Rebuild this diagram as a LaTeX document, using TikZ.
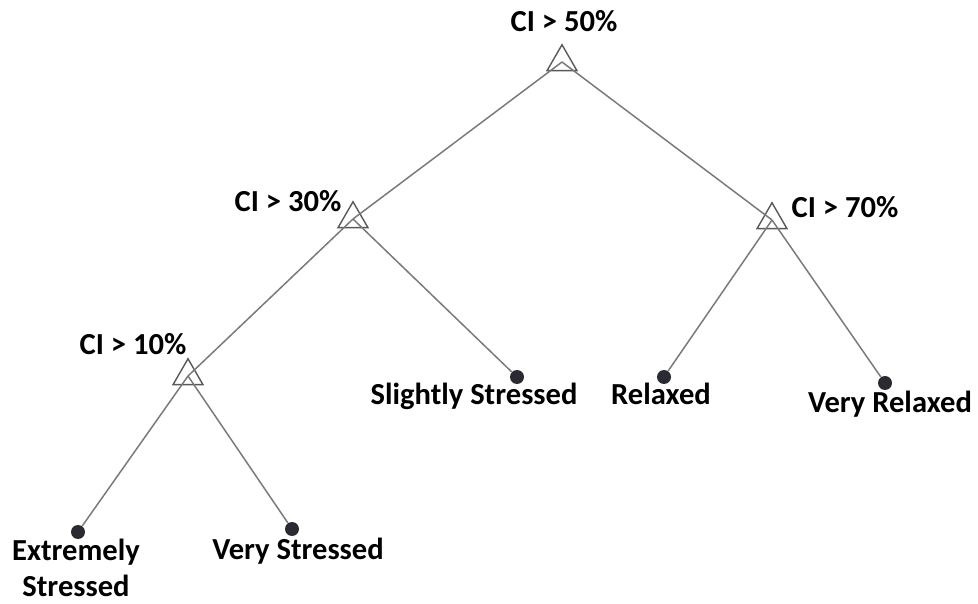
\documentclass[tikz,border=0pt]{standalone}
\usepackage{fontspec}
\setmainfont{Carlito}
\usepackage{tikz}
\usetikzlibrary{shapes.geometric,positioning}
\definecolor{dotgrey}{HTML}{2A2A33}
\definecolor{edgegrey}{HTML}{7A7A7A}

\begin{document}
\begin{tikzpicture}[
  x=0.02cm, y=-0.02cm,
  every node/.style={font=\fontsize{17.4}{20.5}\selectfont\bfseries},
  test/.style={regular polygon, regular polygon sides=3, draw=black!65, line width=0.8pt, minimum size=0.69cm, inner sep=0pt, outer sep=0pt},
  leaf/.style={circle, fill=dotgrey, minimum size=0.28cm, inner sep=0pt},
  cond/.style={anchor=base, inner sep=0pt},
  branch/.style={draw=edgegrey, line width=0.85pt}
]
  \useasboundingbox (0,0) rectangle (978,604);

  % Tests
  \node[test] (ci50) at (562,62) {};
  \node[test] (ci30) at (353,219) {};
  \node[test] (ci10) at (188,376) {};
  \node[test] (ci70) at (772,220) {};

  % Leaves
  \node[leaf] (ext) at (78,532) {};
  \node[leaf] (vst) at (292,529) {};
  \node[leaf] (sst) at (517,377) {};
  \node[leaf] (rel) at (664,377) {};
  \node[leaf] (vrl) at (885,383) {};

  % Branches
  \draw[branch] (ci50.center) -- (ci30.center);
  \draw[branch] (ci50.center) -- (ci70.center);
  \draw[branch] (ci30.center) -- (ci10.center);
  \draw[branch] (ci30.center) -- (sst);
  \draw[branch] (ci10.center) -- (ext);
  \draw[branch] (ci10.center) -- (vst);
  \draw[branch] (ci70.center) -- (rel);
  \draw[branch] (ci70.center) -- (vrl);

  % Conditions
  \node[cond] (l50) at (564,32) {CI > 50\%};
  \node[cond] (l30) at (288,212) {CI > 30\%};
  \node[cond] (l10) at (133,355) {CI > 10\%};
  \node[cond] (l70) at (845,218) {CI > 70\%};

  % Stress levels
  \node[cond, align=center] (t_ext) at (76,597) {Extremely\\Stressed};
  \node[cond] (t_vst) at (298,560) {Very Stressed};
  \node[cond] (t_sst) at (474,405) {Slightly Stressed};
  \node[cond] (t_rel) at (661,405) {Relaxed};
  \node[cond] (t_vrl) at (890,413) {Very Relaxed};
\end{tikzpicture}
\end{document}
